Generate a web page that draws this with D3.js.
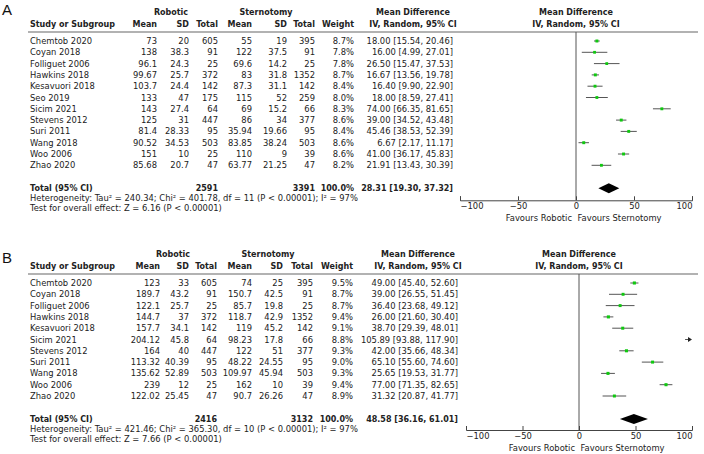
<!DOCTYPE html>
<html>
<head>
<meta charset="utf-8">
<script src="https://cdn.jsdelivr.net/npm/d3@7"></script>
<style>
  body { margin: 0; background: #fff; }
  svg { display: block; }
  text { font-family: "DejaVu Sans", sans-serif; font-size: 8.4px; fill: #222; }
  text.bold { font-weight: bold; font-size: 8px; }
  .panel-label { font-family: "Liberation Sans", Arial, sans-serif; font-size: 15px; fill: #111; }
</style>
</head>
<body>
<div id="chart"></div>
<script>
// ---- panel A data ----
const studiesA = ['Chemtob 2020', 'Coyan 2018', 'Folliguet 2006', 'Hawkins 2018', 'Kesavuori 2018', 'Seo 2019',
  'Sicim 2021', 'Stevens 2012', 'Suri 2011', 'Wang 2018', 'Woo 2006', 'Zhao 2020'];
const roboticMeanA = [73, 138, 96.1, 99.67, 103.7, 133, 143, 125, 81.4, 90.52, 151, 85.68];
const roboticSdA = [20, 38.3, 24.3, 25.7, 24.4, 47, 27.4, 31, 28.33, 34.53, 10, 20.7];
const roboticNA = [605, 91, 25, 372, 142, 175, 64, 447, 95, 503, 25, 47];
const sternMeanA = [55, 122, 69.6, 83, 87.3, 115, 69, 86, 35.94, 83.85, 110, 63.77];
const sternSdA = [19, 37.5, 14.2, 31.8, 31.1, 52, 15.2, 34, 19.66, 38.24, 9, 21.25];
const sternNA = [395, 91, 25, 1352, 142, 259, 66, 377, 95, 503, 39, 47];
const weightA = [8.7, 7.8, 7.8, 8.7, 8.4, 8.0, 8.3, 8.6, 8.4, 8.6, 8.6, 8.2];
const mdA = [18.00, 16.00, 26.50, 16.67, 16.40, 18.00, 74.00, 39.00, 45.46, 6.67, 41.00, 21.91];
const lowA = [15.54, 4.99, 15.47, 13.56, 9.90, 8.59, 66.35, 34.52, 38.53, 2.17, 36.17, 13.43];
const highA = [20.46, 27.01, 37.53, 19.78, 22.90, 27.41, 81.65, 43.48, 52.39, 11.17, 45.83, 30.39];
const totalA = [2591, 3391, 100.0, 28.31, 19.30, 37.32]; // nRob, nStern, weight, md, low, high
const hetA = ['240.34', '401.78', '11', '97%'];
const testA = '6.16';

// ---- panel B data ----
const studiesB = ['Chemtob 2020', 'Coyan 2018', 'Folliguet 2006', 'Hawkins 2018', 'Kesavuori 2018',
  'Sicim 2021', 'Stevens 2012', 'Suri 2011', 'Wang 2018', 'Woo 2006', 'Zhao 2020'];
const roboticMeanB = [123, 189.7, 122.1, 144.7, 157.7, 204.12, 164, 113.32, 135.62, 239, 122.02];
const roboticSdB = [33, 43.2, 25.7, 37, 34.1, 45.8, 40, 40.39, 52.89, 12, 25.45];
const roboticNB = [605, 91, 25, 372, 142, 64, 447, 95, 503, 25, 47];
const sternMeanB = [74, 150.7, 85.7, 118.7, 119, 98.23, 122, 48.22, 109.97, 162, 90.7];
const sternSdB = [25, 42.5, 19.8, 42.9, 45.2, 17.8, 51, 24.55, 45.94, 10, 26.26];
const sternNB = [395, 91, 25, 1352, 142, 66, 377, 95, 503, 39, 47];
const weightB = [9.5, 8.7, 8.7, 9.4, 9.1, 8.8, 9.3, 9.0, 9.3, 9.4, 8.9];
const mdB = [49.00, 39.00, 36.40, 26.00, 38.70, 105.89, 42.00, 65.10, 25.65, 77.00, 31.32];
const lowB = [45.40, 26.55, 23.68, 21.60, 29.39, 93.88, 35.66, 55.60, 19.53, 71.35, 20.87];
const highB = [52.60, 51.45, 49.12, 30.40, 48.01, 117.90, 48.34, 74.60, 31.77, 82.65, 41.77];
const totalB = [2416, 3132, 100.0, 48.58, 36.16, 61.01];
const hetB = ['421.46', '365.30', '10', '97%'];
const testB = '7.66';

const axisTicks = [-100, -50, 0, 50, 100];

const width = 704;
const height = 454;

const svg = d3.select('#chart')
  .append('svg')
  .attr('width', width)
  .attr('height', height);

function fmtCI(md, lo, hi) {
  return `${md.toFixed(2)} [${lo.toFixed(2)}, ${hi.toFixed(2)}]`;
}

function drawPanel(cfg) {
  const g = svg.append('g').attr('transform', `translate(0, ${cfg.top})`);
  const pitch = 11.3;
  const sepY = 32;
  const firstY = 44;
  const n = cfg.studies.length;
  const totalY = firstY + (n - 1) * pitch + 23;
  const cols = cfg.cols;

  const x = d3.scaleLinear().domain([-100, 100]).range(cfg.range);

  g.append('text').attr('class', 'panel-label')
    .attr('x', 2).attr('y', cfg.labelY).text(cfg.label);

  // group headers
  const grp = [['Robotic', cfg.robCenter], ['Sternotomy', cfg.sternCenter]];
  g.selectAll('.grp').data(grp).enter().append('text')
    .attr('class', 'bold')
    .attr('x', d => d[1]).attr('y', sepY - 17)
    .attr('text-anchor', 'middle')
    .text(d => d[0]);

  // column headers
  g.append('text').attr('class', 'bold').attr('x', 30).attr('y', sepY - 5).text('Study or Subgroup');
  const heads = ['Mean', 'SD', 'Total', 'Mean', 'SD', 'Total', 'Weight'];
  g.selectAll('.head').data(heads).enter().append('text')
    .attr('class', 'bold')
    .attr('x', (d, i) => cols[i]).attr('y', sepY - 5)
    .attr('text-anchor', 'end')
    .text(d => d);

  const mdHead = [['Mean Difference', sepY - 17], ['IV, Random, 95% CI', sepY - 5]];
  g.selectAll('.mdhead').data(mdHead).enter().append('text')
    .attr('class', 'bold')
    .attr('x', cfg.mdCol - 40).attr('y', d => d[1])
    .attr('text-anchor', 'middle')
    .text(d => d[0]);
  g.selectAll('.plothead').data(mdHead).enter().append('text')
    .attr('class', 'bold')
    .attr('x', x(0)).attr('y', d => d[1])
    .attr('text-anchor', 'middle')
    .text(d => d[0]);

  g.append('line')
    .attr('x1', 28).attr('x2', 698)
    .attr('y1', sepY).attr('y2', sepY)
    .attr('stroke', '#666').attr('stroke-width', 1.2);

  // table rows
  const rows = cfg.studies.map((s, i) => ({
    name: s,
    cells: [cfg.rMean[i], cfg.rSd[i], cfg.rN[i], cfg.sMean[i], cfg.sSd[i], cfg.sN[i], cfg.weight[i].toFixed(1) + '%'],
    md: cfg.md[i], lo: cfg.low[i], hi: cfg.high[i], w: cfg.weight[i],
    y: firstY + i * pitch,
  }));

  const row = g.selectAll('.row').data(rows).enter().append('g').attr('class', 'row');
  row.append('text').attr('x', 30).attr('y', d => d.y).text(d => d.name);
  row.selectAll('.cell').data(d => d.cells.map((c, j) => ({ c, j, y: d.y }))).enter().append('text')
    .attr('x', d => cols[d.j]).attr('y', d => d.y)
    .attr('text-anchor', 'end')
    .text(d => String(d.c));
  row.append('text').attr('x', cfg.mdCol).attr('y', d => d.y)
    .attr('text-anchor', 'end')
    .text(d => fmtCI(d.md, d.lo, d.hi));

  // totals
  const t = cfg.total;
  g.append('text').attr('class', 'bold').attr('x', 30).attr('y', totalY).text('Total (95% CI)');
  const totCells = [[cols[2], t[0]], [cols[5], t[1]], [cols[6], t[2].toFixed(1) + '%'], [cfg.mdCol, fmtCI(t[3], t[4], t[5])]];
  g.selectAll('.tot').data(totCells).enter().append('text')
    .attr('class', 'bold')
    .attr('x', d => d[0]).attr('y', totalY)
    .attr('text-anchor', 'end')
    .text(d => d[1]);

  const h = cfg.het;
  g.append('text').attr('x', 30).attr('y', totalY + 9.7)
    .text(`Heterogeneity: Tau\u00b2 = ${h[0]}; Chi\u00b2 = ${h[1]}, df = ${h[2]} (P < 0.00001); I\u00b2 = ${h[3]}`);
  g.append('text').attr('x', 30).attr('y', totalY + 19.7)
    .text(`Test for overall effect: Z = ${cfg.test} (P < 0.00001)`);

  // plot
  const axisY = totalY + cfg.axisGap;
  g.append('line')
    .attr('x1', x(0)).attr('x2', x(0))
    .attr('y1', sepY).attr('y2', axisY)
    .attr('stroke', '#555').attr('stroke-width', 1);

  const ci = g.selectAll('.ci').data(rows).enter().append('g').attr('class', 'ci');
  ci.append('line')
    .attr('x1', d => x(Math.max(d.lo, -100)))
    .attr('x2', d => x(Math.min(d.hi, 100)) - (d.hi > 100 ? 3 : 0))
    .attr('y1', d => d.y - 3).attr('y2', d => d.y - 3)
    .attr('stroke', '#555').attr('stroke-width', 1);
  ci.filter(d => d.hi > 100).append('path')
    .attr('d', d => `M${x(100)},${d.y - 3}l-4,-2.5v5z`)
    .attr('fill', '#222');
  ci.filter(d => d.md <= 100).append('rect')
    .attr('x', d => x(d.md) - Math.sqrt(d.w) / 2)
    .attr('y', d => d.y - 3 - Math.sqrt(d.w) / 2)
    .attr('width', d => Math.sqrt(d.w))
    .attr('height', d => Math.sqrt(d.w))
    .attr('fill', '#10c810');

  const dy = totalY - 3;
  g.append('path')
    .attr('d', `M${x(t[4])},${dy}L${x(t[3])},${dy - 5}L${x(t[5])},${dy}L${x(t[3])},${dy + 5}Z`)
    .attr('fill', '#000');

  const axis = d3.axisBottom(x)
    .tickValues(axisTicks)
    .tickSizeInner(-4)
    .tickSizeOuter(-4)
    .tickPadding(3);
  const ax = g.append('g').attr('transform', `translate(0, ${axisY})`).call(axis);
  ax.selectAll('path, line').attr('stroke', '#444');
  ax.selectAll('text')
    .attr('font-family', 'DejaVu Sans').attr('font-size', 9).attr('fill', '#222')
    .attr('text-anchor', (d, i, nodes) => (i === 0 ? 'start' : i === nodes.length - 1 ? 'end' : 'middle'));

  g.append('text').attr('x', x(0) - 4).attr('y', axisY + 21)
    .attr('text-anchor', 'end').text('Favours Robotic');
  g.append('text').attr('x', x(0) + 1.5).attr('y', axisY + 21)
    .text('Favours Sternotomy');
}

drawPanel({
  label: 'A', top: 0, labelY: 15,
  studies: studiesA, rMean: roboticMeanA, rSd: roboticSdA, rN: roboticNA,
  sMean: sternMeanA, sSd: sternSdA, sN: sternNA,
  weight: weightA, md: mdA, low: lowA, high: highA,
  total: totalA, het: hetA, test: testA,
  cols: [157, 189, 218, 252, 287, 315, 354],
  robCenter: 171, sternCenter: 266, mdCol: 453,
  range: [460, 692], axisGap: 9,
});

drawPanel({
  label: 'B', top: 242, labelY: 21,
  studies: studiesB, rMean: roboticMeanB, rSd: roboticSdB, rN: roboticNB,
  sMean: sternMeanB, sSd: sternSdB, sN: sternNB,
  weight: weightB, md: mdB, low: lowB, high: highB,
  total: totalB, het: hetB, test: testB,
  cols: [160, 189, 217, 252, 283, 313, 353],
  robCenter: 173, sternCenter: 268, mdCol: 458,
  range: [466, 692], axisGap: 8,
});
</script>
</body>
</html>
